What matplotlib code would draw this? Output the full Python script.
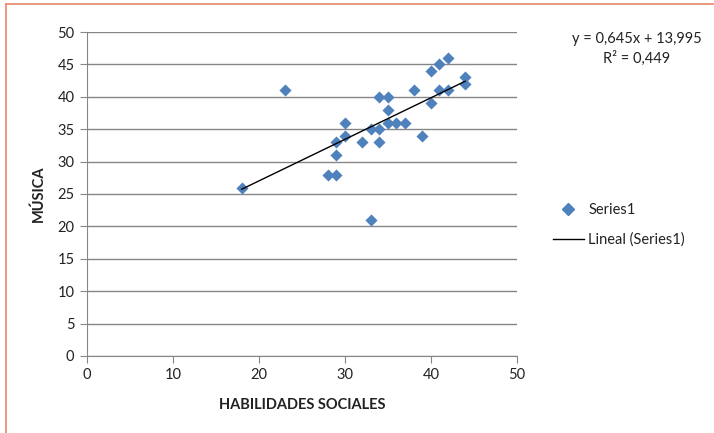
import numpy as np
import matplotlib
matplotlib.use("Agg")
import matplotlib.pyplot as plt
from matplotlib.lines import Line2D

plt.rcParams['font.family'] = ['Lato', 'DejaVu Sans']

## --- data
habilidades = [18, 23, 28, 29, 29, 29, 30, 30, 32, 33, 33, 34, 34, 34, 35,
               35, 35, 36, 37, 38, 39, 40, 40, 41, 41, 42, 42, 44, 44]
musica = [26, 41, 28, 28, 31, 33, 34, 36, 33, 35, 21, 40, 35, 33, 40,
          38, 36, 36, 36, 41, 34, 44, 39, 45, 41, 46, 41, 43, 42]
eq_text = "y = 0,645x + 13,995"
r2_text = "R² = 0,449"

x = np.array(habilidades)
y = np.array(musica)
slope, intercept = np.polyfit(x, y, 1)

fig = plt.figure(figsize=(7.14, 4.33), dpi=100)
ax = fig.add_axes([0.1218, 0.178, 0.602, 0.748])

blue = "#4F81BD"
grey = "#868686"

ax.grid(axis='y', color=grey, linewidth=1)
ax.set_axisbelow(True)
ax.scatter(x, y, marker='D', s=38, color=blue, zorder=3, linewidths=0)
xs = np.array([x.min(), x.max()])
ax.plot(xs, slope * xs + intercept, color='black', linewidth=1, zorder=4)

ax.set_xlim(0, 50)
ax.set_ylim(0, 50)
ax.set_xticks(range(0, 51, 10))
ax.set_yticks(range(0, 51, 5))
for s in ['top', 'right']:
    ax.spines[s].set_visible(False)
for s in ['left', 'bottom']:
    ax.spines[s].set_color(grey)
ax.tick_params(colors=grey, labelcolor='#222222', labelsize=10.5,
               length=5, direction='out')
ax.tick_params(axis='y', pad=4)
ax.tick_params(axis='x', pad=4)

ax.set_xlabel("HABILIDADES SOCIALES", fontweight='bold', fontsize=10.5,
              color='#222222', labelpad=11)
ax.set_ylabel("MÚSICA", fontweight='bold', fontsize=10.5,
              color='#222222', labelpad=8)

# trendline equation
fig.text(637 / 714, 1 - 39 / 433, eq_text, ha='center', va='center',
         fontsize=10.5, color='#222222')
fig.text(637 / 714, 1 - 58 / 433, r2_text, ha='center', va='center',
         fontsize=10.5, color='#222222')

# legend
handles = [Line2D([], [], marker='D', color=blue, linestyle='none', markersize=6),
           Line2D([], [], color='black', linewidth=1)]
fig.legend(handles, ["Series1", "Lineal (Series1)"], loc='center left',
           bbox_to_anchor=(540 / 714, 1 - 225 / 433), frameon=False,
           fontsize=10.5, handlelength=2.1, labelspacing=1.1,
           handletextpad=0.3, labelcolor='#222222')

# orange frame (top and left edges visible)
frame = dict(color='#E8876A', linewidth=1.2, transform=fig.transFigure)
fig.add_artist(Line2D([6 / 714, 6 / 714], [0, 1 - 4 / 433], **frame))
fig.add_artist(Line2D([6 / 714, 1], [1 - 4 / 433, 1 - 4 / 433], **frame))

fig.savefig("out.png", dpi=100)
